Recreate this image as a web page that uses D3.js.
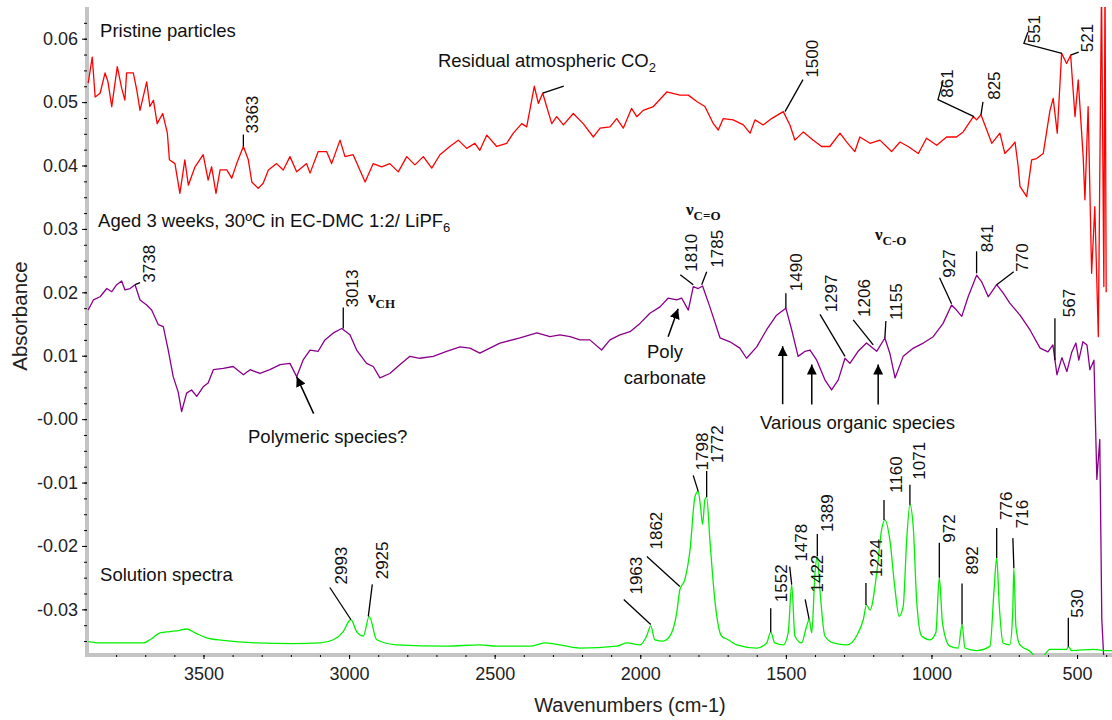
<!DOCTYPE html>
<html>
<head>
<meta charset="utf-8">
<script src="https://cdn.jsdelivr.net/npm/d3@7"></script>
<style>
  body { margin: 0; background: #fff; }
  text { font-family: Arial, "Liberation Sans", sans-serif; }
</style>
</head>
<body>
<div id="grafico"></div>
<script>
// spectra: [wavenumber cm-1, absorbance]
var pristine = [[3896,0.0530],[3882,0.0571],[3872,0.0508],[3855,0.0514],[3838,0.0546],[3828,0.0532],[3815,0.0493],[3796,0.0556],[3781,0.0522],[3770,0.0503],[3764,0.0546],[3741,0.0546],[3729,0.0519],[3718,0.0487],[3695,0.0532],[3684,0.0493],[3672,0.0503],[3659,0.0466],[3640,0.0482],[3624,0.0451],[3617,0.0409],[3598,0.0403],[3581,0.0356],[3564,0.0409],[3552,0.0369],[3529,0.0398],[3501,0.0417],[3484,0.0377],[3472,0.0398],[3457,0.0356],[3443,0.0393],[3420,0.0393],[3403,0.0380],[3386,0.0403],[3363,0.0430],[3346,0.0409],[3334,0.0374],[3312,0.0364],[3295,0.0372],[3277,0.0393],[3249,0.0403],[3226,0.0393],[3203,0.0414],[3180,0.0390],[3146,0.0403],[3134,0.0388],[3106,0.0422],[3077,0.0422],[3060,0.0403],[3031,0.0440],[3014,0.0414],[2986,0.0417],[2945,0.0374],[2917,0.0403],[2888,0.0398],[2860,0.0403],[2831,0.0390],[2802,0.0414],[2774,0.0401],[2745,0.0414],[2716,0.0396],[2688,0.0417],[2654,0.0430],[2625,0.0440],[2596,0.0427],[2568,0.0435],[2551,0.0424],[2527,0.0448],[2493,0.0430],[2459,0.0435],[2436,0.0451],[2407,0.0466],[2390,0.0461],[2364,0.0525],[2350,0.0498],[2335,0.0514],[2304,0.0466],[2287,0.0477],[2264,0.0464],[2230,0.0482],[2196,0.0466],[2161,0.0445],[2138,0.0459],[2104,0.0461],[2081,0.0474],[2058,0.0459],[2030,0.0490],[2012,0.0477],[1990,0.0487],[1955,0.0493],[1909,0.0516],[1864,0.0511],[1835,0.0511],[1806,0.0501],[1778,0.0493],[1749,0.0466],[1732,0.0456],[1715,0.0474],[1681,0.0472],[1646,0.0464],[1623,0.0451],[1606,0.0472],[1578,0.0464],[1549,0.0474],[1509,0.0485],[1486,0.0464],[1469,0.0440],[1440,0.0453],[1406,0.0440],[1377,0.0430],[1349,0.0430],[1314,0.0451],[1291,0.0437],[1263,0.0422],[1246,0.0445],[1211,0.0435],[1177,0.0440],[1137,0.0422],[1108,0.0437],[1080,0.0430],[1045,0.0419],[1017,0.0443],[982,0.0432],[948,0.0445],[914,0.0445],[891,0.0453],[856,0.0477],[845,0.0472],[830,0.0480],[810,0.0456],[793,0.0435],[765,0.0451],[748,0.0419],[725,0.0430],[713,0.0437],[702,0.0398],[696,0.0367],[673,0.0351],[656,0.0409],[639,0.0411],[616,0.0419],[593,0.0487],[582,0.0506],[568,0.0451],[553,0.0577],[536,0.0561],[522,0.0574],[507,0.0477],[496,0.0535],[479,0.0414],[473,0.0346],[462,0.0493],[450,0.0230],[439,0.0335],[427,0.0130],[416,0.0680],[408,0.0209],[404,0.0700],[400,0.0200]];

var aged = [[3896,0.0172],[3878,0.0188],[3855,0.0193],[3832,0.0206],[3815,0.0201],[3798,0.0212],[3781,0.0218],[3770,0.0204],[3752,0.0206],[3735,0.0212],[3718,0.0188],[3695,0.0180],[3678,0.0172],[3655,0.0149],[3638,0.0146],[3621,0.0109],[3604,0.0067],[3587,0.0043],[3575,0.0012],[3558,0.0041],[3541,0.0046],[3523,0.0036],[3501,0.0051],[3484,0.0057],[3466,0.0078],[3432,0.0080],[3398,0.0083],[3363,0.0070],[3340,0.0078],[3306,0.0072],[3272,0.0078],[3237,0.0086],[3203,0.0088],[3180,0.0067],[3157,0.0094],[3134,0.0109],[3106,0.0107],[3083,0.0125],[3054,0.0136],[3025,0.0143],[2997,0.0133],[2974,0.0109],[2940,0.0088],[2917,0.0083],[2894,0.0065],[2860,0.0072],[2825,0.0086],[2791,0.0099],[2757,0.0096],[2711,0.0099],[2665,0.0107],[2619,0.0114],[2585,0.0112],[2551,0.0104],[2482,0.0120],[2413,0.0128],[2355,0.0136],[2310,0.0130],[2276,0.0133],[2241,0.0130],[2207,0.0125],[2173,0.0125],[2133,0.0109],[2104,0.0125],[2070,0.0133],[2035,0.0138],[2001,0.0151],[1967,0.0167],[1932,0.0177],[1904,0.0191],[1875,0.0188],[1858,0.0191],[1835,0.0172],[1818,0.0209],[1801,0.0206],[1786,0.0210],[1761,0.0177],[1726,0.0128],[1692,0.0122],[1658,0.0112],[1635,0.0096],[1600,0.0114],[1566,0.0141],[1532,0.0164],[1500,0.0175],[1480,0.0141],[1458,0.0099],[1434,0.0107],[1417,0.0109],[1394,0.0093],[1366,0.0062],[1343,0.0046],[1320,0.0062],[1297,0.0096],[1280,0.0088],[1252,0.0107],[1223,0.0120],[1188,0.0107],[1160,0.0128],[1143,0.0104],[1125,0.0065],[1097,0.0099],[1062,0.0112],[1028,0.0120],[994,0.0130],[960,0.0151],[931,0.0180],[914,0.0172],[896,0.0162],[874,0.0193],[845,0.0227],[828,0.0217],[805,0.0193],[776,0.0212],[754,0.0199],[731,0.0183],[696,0.0164],[662,0.0141],[627,0.0112],[600,0.0106],[583,0.0117],[569,0.0070],[552,0.0097],[535,0.0075],[518,0.0106],[504,0.0120],[494,0.0093],[480,0.0122],[466,0.0117],[456,0.0078],[442,0.0093],[432,-0.0095],[422,-0.0032],[415,-0.0316],[408,-0.0380]];

var solution = [[3895,-0.0351],[3855,-0.0353],[3707,-0.0353],[3684,-0.0348],[3649,-0.0337],[3615,-0.0335],[3581,-0.0333],[3558,-0.0331],[3529,-0.0337],[3489,-0.0345],[3432,-0.0349],[3317,-0.0353],[3192,-0.0354],[3100,-0.0353],[3054,-0.0348],[3020,-0.0335],[2994,-0.0316],[2974,-0.0335],[2951,-0.0342],[2931,-0.0311],[2905,-0.0348],[2837,-0.0356],[2665,-0.0358],[2551,-0.0356],[2493,-0.0358],[2379,-0.0358],[2327,-0.0353],[2207,-0.0361],[2081,-0.0358],[2047,-0.0353],[2001,-0.0356],[1978,-0.0342],[1964,-0.0326],[1950,-0.0348],[1921,-0.0350],[1898,-0.0342],[1875,-0.0306],[1864,-0.0269],[1847,-0.0253],[1829,-0.0206],[1812,-0.0122],[1801,-0.0114],[1793,-0.0138],[1786,-0.0166],[1778,-0.0127],[1772,-0.0123],[1761,-0.0190],[1744,-0.0285],[1721,-0.0342],[1698,-0.0348],[1669,-0.0356],[1600,-0.0361],[1566,-0.0353],[1552,-0.0336],[1538,-0.0353],[1509,-0.0356],[1492,-0.0337],[1480,-0.0261],[1469,-0.0342],[1446,-0.0353],[1429,-0.0327],[1420,-0.0316],[1411,-0.0337],[1400,-0.0243],[1392,-0.0216],[1383,-0.0269],[1366,-0.0342],[1337,-0.0353],[1291,-0.0356],[1257,-0.0342],[1234,-0.0316],[1223,-0.0293],[1211,-0.0301],[1188,-0.0243],[1171,-0.0174],[1160,-0.0159],[1143,-0.0190],[1125,-0.0269],[1111,-0.0311],[1097,-0.0295],[1085,-0.0190],[1074,-0.0135],[1062,-0.0174],[1051,-0.0285],[1034,-0.0342],[1005,-0.0348],[985,-0.0337],[973,-0.0250],[962,-0.0322],[937,-0.0358],[908,-0.0361],[895,-0.0324],[885,-0.0361],[845,-0.0365],[799,-0.0358],[785,-0.0269],[776,-0.0219],[767,-0.0295],[754,-0.0353],[731,-0.0356],[721,-0.0306],[717,-0.0235],[710,-0.0327],[696,-0.0356],[662,-0.0366],[628,-0.0380],[593,-0.0363],[536,-0.0363],[530,-0.0359],[519,-0.0365],[444,-0.0363],[404,-0.0365],[380,-0.0365]];

var xMajorTicks = [3500, 3000, 2500, 2000, 1500, 1000, 500];
var yTickValues = [0.06, 0.05, 0.04, 0.03, 0.02, 0.01, 0, -0.01, -0.02, -0.03];
var yTickLabels = ["0.06", "0.05", "0.04", "0.03", "0.02", "0.01", "-0.00", "-0.01", "-0.02", "-0.03"];

// peak labels: text, wavenumber, absorbance of the marked point
var peakText = ["3363","1500","861","825","551","521",
                "3738","3013","1810","1785","1490","1297","1206","1155","927","841","770","567",
                "2993","2925","1963","1862","1798","1772","1552","1478","1422","1389","1224","1160","1071","972","892","776","716","530"];
var peakW = [3363,1503,854,830,552,522,
             3735,3020,1818,1789,1500,1297,1200,1160,931,845,776,576,
             2994,2934,1964,1864,1801,1772,1552,1480,1420,1392,1225,1163,1074,973,895,776,717,530];
var peakA = [0.0430,0.0485,0.0477,0.0480,0.0577,0.0574,
             0.0212,0.0143,0.0212,0.0212,0.0175,0.0099,0.0117,0.0128,0.0182,0.0230,0.0212,0.0093,
             -0.0316,-0.0311,-0.0324,-0.0264,-0.0114,-0.0123,-0.0336,-0.0261,-0.0316,-0.0216,-0.0293,-0.0159,-0.0135,-0.0250,-0.0324,-0.0219,-0.0235,-0.0359];

// layout of the leader lines and labels, pixel offsets from the marked point
var leaderBends = [[[0,-12]],[[18,-32]],[[-36,-17],[-31,-35]],[[2,-13]],[[-38,-10],[-34,-21]],[[8,-3]],
  [[5,-2]],[[0,-21]],[[-13,-10]],[[5,-13]],[[0,-15]],[[-25,-42]],[[-20,-25]],[[1,-17]],[[-12,-26]],[[0,-22]],[[17,-13]],[[0,-42]],
  [[-21,-32]],[[4,-32]],[[-27,-25]],[[-33,-30]],[[-5,-16]],[[0,-26]],[[0,-24]],[[-2,-18]],[[-4,-20]],[[0,-22]],[[0,-22]],[[0,-20]],[[0,-20]],[[0,-35]],[[0,-41]],[[0,-30]],[[-1,-30]],[[0,-29]]];
var labelShift = [[15,-13],[33,-34],[-21,-19],[19,-15],[-22,-10],[22,-3],
  [20,-2],[15,-21],[4,-13],[21,-17],[16,-17],[-8,-44],[-3,-28],[17,-18],[3,-26],[16,-21],[31,-13],[20,-43],
  [-4,-35],[20,-37],[-9,-30],[-18,-37],[10,-21],[16,-34],[16,-30],[15,-23],[14,-27],[16,-24],[16,-28],[18,-27],[15,-25],[16,-35],[16,-50],[15,-38],[14,-40],[15,-29]];

// arrows: point of the tip, and where the tail sits
var arrowW = [3180, 1870, 1511, 1411, 1183];
var arrowA = [0.0067, 0.0174, 0.0115, 0.0086, 0.0086];
var arrowTail = [[17,37],[-10,28],[0,58],[0,40],[0,40]];

var svgWidth = 1112;
var svgHeight = 720;

var svg = d3.select("#grafico")
  .append("svg")
  .attr("width", svgWidth)
  .attr("height", svgHeight);

var plot = { left: 87, right: 1112, top: 7, bottom: 655 };

var x = d3.scaleLinear().domain([3900, 380]).range([plot.left, plot.right]);
var y = d3.scaleLinear().domain([-0.0372, 0.0650]).range([plot.bottom, plot.top]);

var defs = svg.append("defs");
defs.append("clipPath").attr("id", "clip")
  .append("rect")
  .attr("x", plot.left).attr("y", plot.top)
  .attr("width", plot.right - plot.left).attr("height", plot.bottom - plot.top);

defs.append("marker")
  .attr("id", "arrow")
  .attr("markerUnits", "userSpaceOnUse")
  .attr("markerWidth", 11).attr("markerHeight", 10)
  .attr("refX", 10).attr("refY", 5)
  .attr("orient", "auto")
  .append("path").attr("d", "M0,0 L10,5 L0,10 Z").attr("fill", "#000");

// axes
var minorX = d3.range(3800, 399, -100);
var minorY = d3.range(0.0625, -0.037, -0.0025);

var xAxisG = svg.append("g").attr("transform", "translate(0," + plot.bottom + ")");
xAxisG.append("line")
  .attr("x1", plot.left - 2).attr("x2", plot.right)
  .attr("stroke", "#c4c4c4").attr("stroke-width", 4);
xAxisG.append("g").call(d3.axisBottom(x).tickValues(minorX).tickSize(2).tickSizeOuter(0).tickFormat(""))
  .call(g => g.select(".domain").remove());
xAxisG.append("g").call(d3.axisBottom(x).tickValues(xMajorTicks).tickSize(4).tickSizeOuter(0).tickPadding(8)
    .tickFormat(d3.format("d")))
  .call(g => g.select(".domain").remove())
  .call(g => g.selectAll("text").attr("font-size", 18).attr("fill", "#222")
    .style("font-family", "Arial, 'Liberation Sans', sans-serif"));

var yAxisG = svg.append("g").attr("transform", "translate(" + plot.left + ",0)");
yAxisG.append("line")
  .attr("y1", plot.top).attr("y2", plot.bottom + 2)
  .attr("stroke", "#c4c4c4").attr("stroke-width", 4);
yAxisG.append("g").call(d3.axisLeft(y).tickValues(minorY).tickSize(3).tickSizeOuter(0).tickFormat(""))
  .call(g => g.select(".domain").remove());
yAxisG.append("g").call(d3.axisLeft(y).tickValues(yTickValues).tickSize(5).tickSizeOuter(0).tickPadding(4)
    .tickFormat((d, i) => yTickLabels[i]))
  .call(g => g.select(".domain").remove())
  .call(g => g.selectAll("text").attr("font-size", 18).attr("fill", "#222")
    .style("font-family", "Arial, 'Liberation Sans', sans-serif"));

svg.append("text")
  .attr("transform", "translate(27,316) rotate(-90)")
  .attr("text-anchor", "middle")
  .attr("font-size", 20.5).attr("fill", "#222")
  .text("Absorbance");

svg.append("text")
  .attr("x", 630).attr("y", 712)
  .attr("text-anchor", "middle")
  .attr("font-size", 20).attr("fill", "#222")
  .text("Wavenumbers (cm-1)");

// spectra
var line = d3.line().x(d => x(d[0])).y(d => y(d[1]));
var smooth = d3.line().x(d => x(d[0])).y(d => y(d[1])).curve(d3.curveMonotoneX);

var curves = svg.append("g").attr("clip-path", "url(#clip)");
curves.append("path").datum(pristine).attr("d", line)
  .attr("fill", "none").attr("stroke", "#ff0000").attr("stroke-width", 1.3).attr("stroke-linejoin", "round");
curves.append("path").datum(aged).attr("d", line)
  .attr("fill", "none").attr("stroke", "#8b008b").attr("stroke-width", 1.3).attr("stroke-linejoin", "round");
curves.append("path").datum(solution).attr("d", smooth)
  .attr("fill", "none").attr("stroke", "#00f000").attr("stroke-width", 1.3).attr("stroke-linejoin", "round");

// peak labels with leader lines
var notes = svg.append("g");
peakText.forEach(function (t, i) {
  var px = x(peakW[i]), py = y(peakA[i]);
  var pts = [[px, py]].concat(leaderBends[i].map(o => [px + o[0], py + o[1]]));
  notes.append("path")
    .attr("d", d3.line()(pts))
    .attr("fill", "none").attr("stroke", "#000").attr("stroke-width", 1.3);
  notes.append("text")
    .attr("transform", "translate(" + (px + labelShift[i][0]) + "," + (py + labelShift[i][1]) + ") rotate(-90)")
    .attr("font-size", 17).attr("fill", "#111")
    .text(t);
});

// CO2 leader
notes.append("path")
  .attr("d", d3.line()([[x(2335), y(0.0514)], [x(2335) + 21, y(0.0514) - 7]]))
  .attr("stroke", "#000").attr("stroke-width", 1.3);

// arrows
arrowW.forEach(function (w, i) {
  var px = x(w), py = y(arrowA[i]);
  notes.append("line")
    .attr("x1", px + arrowTail[i][0]).attr("y1", py + arrowTail[i][1])
    .attr("x2", px).attr("y2", py)
    .attr("stroke", "#000").attr("stroke-width", 1.5)
    .attr("marker-end", "url(#arrow)");
});

// plain text labels
function label(w, a, anchor) {
  return notes.append("text")
    .attr("x", x(w)).attr("y", y(a))
    .attr("text-anchor", anchor || "start")
    .attr("font-size", 18.5).attr("fill", "#111");
}
label(3855, 0.0603).text("Pristine particles");
var co2 = label(2695, 0.0555).text("Residual atmospheric CO");
co2.append("tspan").attr("font-size", 13).attr("dy", 5).text("2");
var agedLbl = label(3862, 0.0303).text("Aged 3 weeks, 30\u00baC in EC-DMC 1:2/ LiPF");
agedLbl.append("tspan").attr("font-size", 13).attr("dy", 5).text("6");
label(3347, -0.0037).text("Polymeric species?");
label(1915, 0.0097, "middle").text("Poly");
label(1915, 0.0056, "middle").text("carbonate");
label(1589, -0.0015).text("Various organic species");
label(3855, -0.0255).text("Solution spectra");

// vibration mode labels
function nu(w, a, sub) {
  var t = notes.append("text")
    .attr("x", x(w)).attr("y", y(a))
    .attr("font-size", 17).attr("font-weight", "bold").attr("fill", "#111")
    .style("font-family", "'Liberation Serif', 'Times New Roman', serif");
  t.append("tspan").text("\u03bd");
  t.append("tspan").attr("font-size", 13).attr("dy", 5).text(sub);
}
nu(2935, 0.0183, "CH");
nu(1843, 0.0322, "C=O");
nu(1194, 0.0283, "C-O");
</script>
</body>
</html>
